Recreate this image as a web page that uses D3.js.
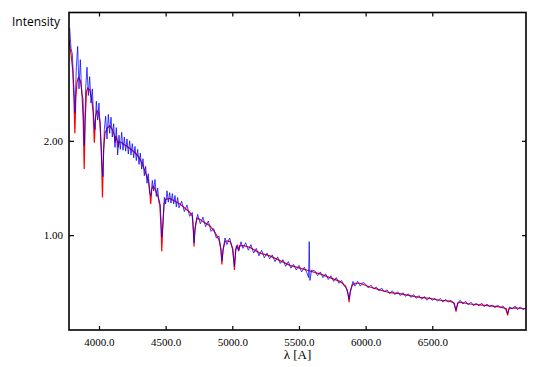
<!DOCTYPE html>
<html lang="en">
<head>
<meta charset="utf-8">
<title>Spectrum</title>
<script src="https://d3js.org/d3.v7.min.js"></script>
<style>
  body { margin: 0; background: white; }
  .tick text { font-family: "Liberation Serif", "DejaVu Serif", serif; font-size: 11px; fill: #000; }
  .tick line { stroke: #000; stroke-width: 1.2px; }
</style>
</head>
<body>
<div id="chart"></div>
<script>
// observed spectrum (blue)
var obsWave = [3780,3790,3800,3810,3820,3830,3840,3850,3860,3870,3880,3890,3900,3910,3920,3930,3940,3950,3960,3970,
  3980,3990,4000,4010,4020,4030,4040,4050,4060,4070,4080,4090,4100,4110,4120,4130,4140,4150,4160,4170,
  4180,4190,4200,4210,4220,4230,4240,4250,4260,4270,4280,4290,4300,4310,4320,4330,4340,4350,4360,4370,
  4380,4390,4400,4410,4420,4430,4440,4450,4460,4470,4480,4490,4500,4510,4520,4530,4540,4550,4560,4570,
  4580,4590,4600,4620,4640,4660,4680,4700,4713,4725,4740,4760,4780,4800,4820,4840,4860,4880,4900,4912,
  4922,4932,4945,4960,4980,5000,5016,5030,5048,5065,5080,5100,5120,5140,5160,5180,5200,5220,5240,5260,
  5280,5300,5320,5340,5360,5380,5400,5420,5440,5460,5480,5500,5520,5540,5560,5572,5577,5582,5595,5620,
  5640,5660,5680,5700,5720,5740,5760,5780,5800,5820,5840,5860,5876,5890,5905,5920,5940,5960,5980,6000,
  6020,6040,6060,6080,6100,6120,6140,6160,6180,6200,6220,6240,6260,6280,6300,6320,6340,6360,6380,6400,
  6420,6440,6460,6480,6500,6520,6540,6560,6580,6600,6620,6640,6660,6678,6695,6710,6730,6750,6770,6790,
  6810,6830,6850,6870,6890,6910,6930,6950,6970,6990,7010,7030,7050,7065,7080,7100,7120,7140,7160,7180,7200];
var obsFlux = [3.20,2.98,2.92,2.60,2.30,2.78,3.00,2.55,2.86,2.50,2.45,1.95,2.55,2.78,2.48,2.68,2.40,2.55,2.25,2.12,
  2.42,2.22,2.40,2.10,1.78,1.62,2.12,2.26,2.02,2.28,2.08,2.25,2.04,2.18,1.93,2.14,1.85,2.06,1.91,2.09,
  1.90,2.04,1.89,2.02,1.86,2.00,1.85,1.97,1.82,1.94,1.79,1.91,1.75,1.87,1.70,1.81,1.63,1.73,1.55,1.65,
  1.44,1.42,1.58,1.47,1.59,1.41,1.50,1.34,1.32,0.98,1.10,1.40,1.33,1.47,1.35,1.45,1.34,1.44,1.33,1.42,
  1.30,1.40,1.29,1.36,1.25,1.32,1.20,1.24,0.92,1.12,1.22,1.12,1.19,1.09,1.15,1.04,1.07,0.97,0.99,0.87,
  0.73,0.84,0.97,0.90,0.97,0.86,0.67,0.89,0.83,0.93,0.86,0.92,0.84,0.90,0.81,0.86,0.78,0.84,0.76,0.81,
  0.75,0.79,0.72,0.77,0.70,0.74,0.67,0.72,0.65,0.69,0.63,0.68,0.61,0.66,0.60,0.55,0.93,0.52,0.63,0.62,
  0.57,0.61,0.55,0.59,0.53,0.57,0.51,0.55,0.49,0.52,0.46,0.43,0.32,0.43,0.51,0.46,0.51,0.46,0.50,0.48,
  0.44,0.47,0.43,0.45,0.41,0.44,0.40,0.42,0.38,0.41,0.37,0.40,0.36,0.39,0.35,0.38,0.34,0.37,0.33,0.36,
  0.32,0.35,0.31,0.34,0.31,0.33,0.30,0.33,0.29,0.32,0.29,0.31,0.28,0.21,0.29,0.31,0.27,0.30,0.26,0.29,
  0.25,0.28,0.25,0.28,0.24,0.27,0.24,0.26,0.23,0.26,0.23,0.25,0.21,0.17,0.24,0.22,0.25,0.21,0.24,0.21,0.23];

// model spectrum (red)
var modelWave = [3775,3790,3803,3812,3819,3826,3835,3845,3860,3872,3882,3889,3896,3906,3915,3930,3945,3956,3965,3974,
  3985,3995,4008,4018,4026,4034,4045,4060,4080,4100,4115,4121,4128,4138,4144,4150,4170,4200,4240,4280,
  4307,4345,4370,4382,4388,4395,4405,4420,4435,4455,4465,4471,4478,4488,4500,4532,4570,4607,4650,4682,
  4700,4708,4713,4718,4735,4765,4795,4832,4870,4900,4915,4922,4930,4945,4960,4985,5005,5016,5025,5040,
  5048,5056,5080,5132,5207,5282,5357,5432,5507,5582,5657,5732,5807,5850,5868,5876,5884,5900,5920,5957,
  6032,6107,6182,6257,6332,6407,6482,6557,6632,6665,6678,6690,6707,6782,6857,6932,7007,7055,7065,7075,7120,7202];
var modelFlux = [3.07,2.92,2.75,2.45,2.08,2.45,2.62,2.67,2.64,2.52,2.20,1.70,2.20,2.52,2.56,2.54,2.45,2.30,1.98,2.25,
  2.32,2.30,2.20,1.90,1.40,1.90,2.08,2.13,2.16,2.12,2.06,1.98,2.05,2.00,1.93,1.99,1.98,1.95,1.91,1.86,
  1.81,1.68,1.58,1.45,1.33,1.48,1.52,1.49,1.44,1.35,1.10,0.83,1.10,1.33,1.38,1.39,1.36,1.33,1.28,1.24,
  1.20,1.05,0.88,1.05,1.18,1.16,1.13,1.10,1.03,0.95,0.85,0.69,0.85,0.93,0.94,0.93,0.85,0.63,0.85,0.89,
  0.84,0.89,0.89,0.87,0.81,0.78,0.73,0.68,0.65,0.62,0.59,0.55,0.51,0.46,0.38,0.29,0.40,0.47,0.49,0.49,
  0.45,0.42,0.39,0.38,0.36,0.34,0.33,0.31,0.30,0.28,0.19,0.28,0.29,0.27,0.26,0.25,0.24,0.22,0.15,0.22,0.23,0.22];

var xTicks = [4000, 4500, 5000, 5500, 6000, 6500];
var yTicks = [1, 2];

var width = 545, height = 367;
var padL = 69, padR = 526, padT = 12.5, padB = 330;

var svg = d3.select("#chart").append("svg")
  .attr("width", width)
  .attr("height", height);

var x = d3.scaleLinear().domain([3775, 7203]).range([padL, padR]);
var y = d3.scaleLinear().domain([0, 3.36]).range([329.5, padT]);

svg.append("defs").append("clipPath").attr("id", "clip")
  .append("rect")
  .attr("x", padL).attr("y", padT)
  .attr("width", padR - padL).attr("height", padB - padT);

var line = d3.line()
  .x(function(d) { return x(d[0]); })
  .y(function(d) { return y(d[1]); });

var plot = svg.append("g").attr("clip-path", "url(#clip)");

plot.append("path")
  .datum(d3.zip(modelWave, modelFlux))
  .attr("d", line)
  .attr("fill", "none")
  .attr("stroke", "#ff0000")
  .attr("stroke-width", 1.2);

plot.append("path")
  .datum(d3.zip(obsWave, obsFlux))
  .attr("d", line)
  .attr("fill", "none")
  .attr("stroke", "#0000ff")
  .attr("stroke-width", 1)
  .attr("stroke-opacity", 0.75);

// axes, ticks pointing inward
var fmtX = d3.format(".1f"), fmtY = d3.format(".2f");

svg.append("g")
  .attr("transform", "translate(0," + padB + ")")
  .call(d3.axisBottom(x).tickValues(xTicks).tickSize(-4).tickPadding(8).tickFormat(fmtX))
  .call(function(g) { g.select(".domain").remove(); });

svg.append("g")
  .attr("transform", "translate(0," + padT + ")")
  .call(d3.axisTop(x).tickValues(xTicks).tickSize(-4).tickFormat(""))
  .call(function(g) { g.select(".domain").remove(); });

svg.append("g")
  .attr("transform", "translate(" + padL + ",0)")
  .call(d3.axisLeft(y).tickValues(yTicks).tickSize(-5).tickPadding(6).tickFormat(fmtY))
  .call(function(g) { g.select(".domain").remove(); });

svg.append("g")
  .attr("transform", "translate(" + padR + ",0)")
  .call(d3.axisRight(y).tickValues(yTicks).tickSize(-4).tickFormat(""))
  .call(function(g) { g.select(".domain").remove(); });

svg.append("rect")
  .attr("x", padL).attr("y", padT)
  .attr("width", padR - padL).attr("height", padB - padT)
  .attr("fill", "none")
  .attr("stroke", "#000")
  .attr("stroke-width", 1.6);

svg.append("text")
  .attr("x", 12).attr("y", 26)
  .style("font-family", "'Open Sans', 'Noto Sans', sans-serif")
  .style("font-size", "12px")
  .text("Intensity");

svg.append("text")
  .attr("x", (padL + padR) / 2).attr("y", 359)
  .attr("text-anchor", "middle")
  .style("font-family", "'Liberation Serif', serif")
  .style("font-size", "13px")
  .text("λ [A]");
</script>
</body>
</html>
